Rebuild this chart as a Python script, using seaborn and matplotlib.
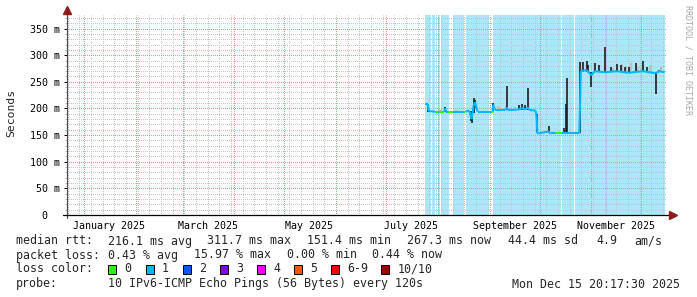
import matplotlib
matplotlib.use("Agg")
import matplotlib.pyplot as plt
import matplotlib.ticker as mticker
from matplotlib.patches import Rectangle
from matplotlib.lines import Line2D
import seaborn as sns
import pandas as pd

sns.set_style("white")
plt.rcParams['font.family'] = ['DejaVu Sans Mono', 'DejaVu Sans']

# ---------------- data ----------------
x_start = "2024-12-21 15:00"
x_end = "2025-12-15 20:17"
y_max_ms = 376

month_label_dates = ["2025-01-16", "2025-03-16", "2025-05-16",
                     "2025-07-16", "2025-09-16", "2025-11-16"]
month_labels = ["January 2025", "March 2025", "May 2025",
                "July 2025", "September 2025", "November 2025"]
y_tick_values = [0, 50, 100, 150, 200, 250, 300, 350]
y_tick_labels = ["0  ", "50 m", "100 m", "150 m", "200 m", "250 m", "300 m", "350 m"]

# loss background bands
band_starts = ["2025-07-24 10:00", "2025-07-28 11:00", "2025-07-30 20:00", "2025-08-01 09:00",
               "2025-08-03 00:00", "2025-08-06 04:00", "2025-08-10 09:00", "2025-08-17 19:00",
               "2025-09-03 03:00", "2025-10-14 14:00", "2025-10-22 04:00", "2025-11-10 00:00"]
band_ends = ["2025-07-27 20:00", "2025-07-30 06:00", "2025-07-31 19:00", "2025-08-02 10:00",
             "2025-08-05 19:00", "2025-08-07 19:00", "2025-08-16 23:00", "2025-08-31 17:00",
             "2025-10-13 23:00", "2025-10-21 09:00", "2025-12-15 00:00", "2025-11-10 14:00"]
band_loss = [1, 1, 1, 1, 1, 1, 1, 1, 1, 1, 1, 2]

# median rtt (ms) with loss class of the segment starting at each point
med_dates = ["2025-07-24 10:00", "2025-07-25 22:00", "2025-07-26 12:00", "2025-07-30 10:00",
             "2025-07-31 22:00", "2025-08-01 19:00", "2025-08-04 19:00", "2025-08-05 09:00",
             "2025-08-06 04:00", "2025-08-07 05:00", "2025-08-10 04:00", "2025-08-16 11:00",
             "2025-08-17 09:00", "2025-08-19 18:00", "2025-08-20 16:00", "2025-08-21 06:00",
             "2025-08-22 11:00", "2025-08-23 08:00", "2025-08-24 20:00", "2025-09-01 15:00",
             "2025-09-02 20:00", "2025-09-03 06:00", "2025-09-04 00:00", "2025-09-04 22:00",
             "2025-09-10 07:00", "2025-09-11 07:00", "2025-09-12 02:00", "2025-09-18 16:00",
             "2025-09-20 11:00", "2025-09-22 06:00", "2025-09-24 01:00", "2025-09-25 06:00",
             "2025-09-28 13:00", "2025-09-29 03:00", "2025-09-29 18:00", "2025-10-06 15:00",
             "2025-10-07 12:00", "2025-10-10 12:00", "2025-10-14 09:00", "2025-10-24 21:00",
             "2025-10-25 18:00", "2025-10-29 08:00", "2025-11-01 01:00", "2025-11-03 03:00",
             "2025-11-09 03:00", "2025-11-16 07:00", "2025-11-23 11:00", "2025-12-02 01:00",
             "2025-12-09 15:00", "2025-12-11 15:00", "2025-12-15 00:00"]
med_ms = [209, 209, 195, 194, 194, 194, 194, 200, 194, 194, 194, 194,
          194, 196, 186, 180, 205, 212, 194, 194, 194, 207, 199, 197,
          197, 202, 197, 198, 201, 198, 202, 197, 196, 188, 153, 157,
          153, 153, 153, 153, 270, 272, 262, 270, 268, 270, 267, 270,
          266, 270, 268]
med_loss = [1, 1, 1, 0, 1, 0, 1, 1, 1, 0, 1, 0,
            1, 1, 1, 1, 1, 1, 1, 0, 1, 1, 1, 1,
            1, 1, 1, 1, 1, 1, 1, 1, 1, 1, 1, 1,
            1, 0, 1, 1, 1, 1, 1, 1, 1, 1, 1, 1,
            1, 1, 1]

# dark smoke spikes
spike_dates = ["2025-07-26 06:00", "2025-08-05 09:00", "2025-08-20 16:00", "2025-08-21 06:00",
               "2025-08-22 11:00", "2025-08-23 08:00", "2025-09-03 03:00", "2025-09-11 07:00",
               "2025-09-18 16:00", "2025-09-20 11:00", "2025-09-22 06:00", "2025-09-24 01:00",
               "2025-09-29 10:00", "2025-10-06 15:00", "2025-10-15 21:00", "2025-10-17 02:00",
               "2025-10-17 16:00", "2025-10-25 03:00", "2025-10-26 23:00", "2025-10-29 08:00",
               "2025-10-30 06:00", "2025-11-01 01:00", "2025-11-03 03:00", "2025-11-05 12:00",
               "2025-11-09 03:00", "2025-11-12 17:00", "2025-11-16 07:00", "2025-11-18 17:00",
               "2025-11-21 02:00", "2025-11-23 11:00", "2025-11-27 16:00", "2025-12-02 01:00",
               "2025-12-04 11:00", "2025-12-09 15:00", "2025-12-11 15:00"]
spike_lo = [194, 194, 176, 173, 192, 200, 195, 197, 197, 197, 197, 197,
            153, 153, 153, 153, 153, 153, 268, 268, 268, 241, 268, 268,
            268, 268, 268, 268, 268, 268, 268, 268, 268, 227, 268]
spike_hi = [209, 203, 196, 190, 219, 216, 210, 243, 206, 209, 206, 238,
            190, 167, 164, 208, 258, 288, 287, 290, 281, 268, 286, 281,
            316, 277, 283, 281, 278, 277, 285, 290, 278, 268, 273]

# light smoke
smoke_dates = ["2025-08-02 00:00", "2025-08-03 00:00", "2025-08-12 00:00", "2025-09-06 00:00",
               "2025-09-07 00:00", "2025-09-14 00:00", "2025-09-16 00:00", "2025-11-14 00:00",
               "2025-11-19 12:00", "2025-11-22 00:00", "2025-11-25 00:00", "2025-11-29 00:00",
               "2025-12-01 00:00", "2025-12-06 00:00", "2025-12-07 00:00", "2025-12-13 00:00"]
smoke_lo = [194, 194, 194, 197, 197, 197, 197, 268, 268, 268, 268, 268, 268, 268, 268, 268]
smoke_hi = [198, 198, 197, 204, 203, 202, 203, 276, 284, 280, 286, 278, 276, 279, 282, 278]

loss_colors = {0: "#26ff00", 1: "#00b8ff", 2: "#0059ff", 3: "#7e00ff",
               4: "#f000f0", 5: "#ff5500", 6: "#ff0000", 10: "#a10000"}
band_colors = {1: "#ade6fa", 2: "#b6c4f4"}
legend_keys = [0, 1, 2, 3, 4, 5, 6, 10]
legend_names = ["0", "1", "2", "3", "4", "5", "6-9", "10/10"]

stats_rtt = ["216.1 ms avg", "311.7 ms max", "151.4 ms min", "267.3 ms now", "44.4 ms sd", "4.9", "am/s"]
stats_loss = ["0.43 % avg", "15.97 % max", "0.00 % min", "0.44 % now"]
probe_text = "10 IPv6-ICMP Echo Pings (56 Bytes) every 120s"
stamp_text = "Mon Dec 15 20:17:30 2025"

# ---------------- figure ----------------
W, H = 697, 297
fig = plt.figure(figsize=(W / 100, H / 100), dpi=100)
fig.patch.set_facecolor("white")
L, R, B, T = 67, 666, 215, 14.7
ax = fig.add_axes([L / W, 1 - B / H, (R - L) / W, (B - T) / H])
ax.set_facecolor("white")

# loss background bands
for s, e, k in zip(band_starts, band_ends, band_loss):
    ax.axvspan(pd.Timestamp(s), pd.Timestamp(e), color=band_colors[k], lw=0, zorder=0.5)

dot = (0.5, (1, 1))
grid_gray = "#c4c4c4"
grid_red = "#ee8c8c"
for d in pd.date_range("2024-12-22", "2025-12-14", freq="7D"):
    if d.day != 1:
        ax.axvline(d, color=grid_gray, lw=0.72, ls=dot, zorder=1)
for d in pd.date_range("2025-01-01", "2025-12-01", freq="MS"):
    ax.axvline(d, color=grid_red, lw=0.72, ls=dot, zorder=1.1)

ax.yaxis.set_major_locator(mticker.FixedLocator(y_tick_values))
ax.yaxis.set_major_formatter(mticker.FixedFormatter(y_tick_labels))
ax.yaxis.set_minor_locator(mticker.MultipleLocator(10))
ax.set_axisbelow(False)
ax.grid(which="minor", axis="y", color=grid_gray, lw=0.72, ls=dot)
ax.grid(which="major", axis="y", color=grid_red, lw=0.72, ls=dot)
ax.grid(which="both", axis="x", visible=False)

# light smoke
ax.vlines([pd.Timestamp(d) for d in smoke_dates], smoke_lo, smoke_hi,
          color="#bdbdbd", lw=1.4, zorder=3)
# dark smoke spikes
ax.vlines([pd.Timestamp(d) for d in spike_dates], spike_lo, spike_hi,
          color="#1c1c1c", lw=1.2, zorder=3.5)

# median line coloured by loss
rows = []
for i in range(len(med_dates) - 1):
    rows.append({"seg": i, "t": pd.Timestamp(med_dates[i]), "ms": med_ms[i], "loss": med_loss[i]})
    rows.append({"seg": i, "t": pd.Timestamp(med_dates[i + 1]), "ms": med_ms[i + 1], "loss": med_loss[i]})
df = pd.DataFrame(rows)
sns.lineplot(data=df, x="t", y="ms", hue="loss", units="seg", estimator=None,
             palette={0: loss_colors[0], 1: loss_colors[1]}, lw=1.5, legend=False,
             sort=False, ax=ax, zorder=4, solid_capstyle="butt")

ax.set_xlim(pd.Timestamp(x_start), pd.Timestamp(x_end))
ax.set_ylim(0, y_max_ms)
ax.set_xlabel("")
ax.set_ylabel("")

ax.set_xticks([pd.Timestamp(d) for d in month_label_dates])
ax.set_xticklabels(month_labels)
ax.xaxis.set_minor_locator(mticker.NullLocator())
ax.tick_params(axis="x", which="both", length=0, pad=4.0, labelsize=7.2, colors="black")
ax.tick_params(axis="y", which="major", length=2.4, width=0.72, pad=2.6,
               labelsize=7.2, colors="black", left=True)
ax.tick_params(axis="y", which="minor", length=1.6, width=0.72, color="#bbbbbb", left=True)
for sp in ax.spines.values():
    sp.set_visible(False)

# axes lines and arrows
ax.add_line(Line2D([0, 0], [-0.015, 1.02], transform=ax.transAxes, color="#505050",
                   lw=0.9, clip_on=False, zorder=6))
ax.add_line(Line2D([-0.007, 1.008], [0, 0], transform=ax.transAxes, color="black",
                   lw=0.9, clip_on=False, zorder=6))
ax.plot([0], [1.022], marker="^", ms=5.2, color="#8b1c1c", mec="#8b1c1c",
        transform=ax.transAxes, clip_on=False, zorder=7)
ax.plot([1.012], [0], marker=">", ms=5.2, color="#8b1c1c", mec="#8b1c1c",
        transform=ax.transAxes, clip_on=False, zorder=7)


def ftext(x, y, s, **kw):
    kw.setdefault("fontsize", 8.4)
    kw.setdefault("va", "center")
    kw.setdefault("ha", "left")
    kw.setdefault("family", "DejaVu Sans Mono")
    fig.text(x / W, 1 - y / H, s, **kw)


ftext(11, 113, "Seconds", rotation=90, ha="center", fontsize=8.2)
ftext(688, 5, "RRDTOOL / TOBI OETIKER", rotation=270, ha="center", va="top",
      fontsize=6.0, color="#a8a8a8")

y1, y2, y3, y4 = 241, 255, 269, 284
ftext(16, y1, "median rtt:")
for xp, s in zip([107.5, 207, 306.7, 407, 507.5, 596.4, 634.7], stats_rtt):
    ftext(xp, y1, s)
ftext(16, y2, "packet loss:")
for xp, s in zip([107.5, 193.8, 286.7, 372.4], stats_loss):
    ftext(xp, y2, s)
ftext(16, y3, "loss color:")
for xp, k, name in zip([108, 145.5, 182.5, 219.5, 257, 294, 331, 381], legend_keys, legend_names):
    fig.add_artist(Rectangle((xp / W, 1 - (y3 + 4.5) / H), 8 / W, 9 / H,
                             facecolor=loss_colors[k], edgecolor="black", lw=0.7,
                             transform=fig.transFigure))
    ftext(xp + 16.5, y3, name)
ftext(16, y4, "probe:")
ftext(107.5, y4, probe_text)
ftext(680, y4, stamp_text, ha="right")

fig.savefig("out.png", dpi=100)
